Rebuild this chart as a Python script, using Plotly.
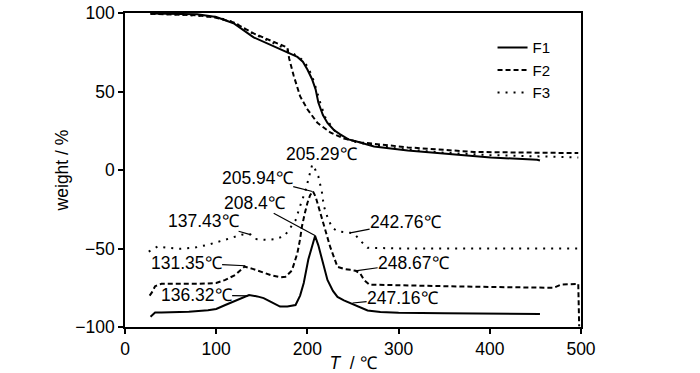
import plotly.graph_objects as go

# ---- TG curves (weight %) ----
t_f1_tg = [28, 60, 79, 100, 119, 141, 156, 174, 189, 195, 200, 205, 209, 212, 217, 222, 229, 236, 245, 255, 273, 310, 357, 401, 452, 455]
w_f1_tg = [99.7, 99.3, 99.2, 97.4, 93.5, 84.5, 80.5, 76, 72, 69, 64, 58, 51.4, 43, 35, 30, 25.5, 22.7, 19.5, 18, 15, 12.5, 10, 8, 6.5, 6]

t_f2_tg = [28, 60, 80, 100, 119, 141, 163, 178, 180, 185, 192, 200, 211, 225, 240, 258, 310, 383, 456, 497]
w_f2_tg = [99.5, 99, 98.5, 97, 94, 87, 81.5, 78, 71, 60, 47, 38.7, 30, 24, 20, 17.6, 14.4, 11.5, 11, 10.8]

t_f3_tg = [28, 60, 100, 120, 140, 160, 175, 185, 195, 200, 205, 210, 215, 220, 230, 240, 255, 300, 350, 400, 450, 497]
w_f3_tg = [99.5, 99, 97.5, 94, 87, 81.5, 77.5, 74, 70, 66, 60, 51, 41, 33, 25, 20.5, 17.5, 13.5, 11, 9.5, 8.5, 8]

# ---- DTG curves (offset, drawn on same axis) ----
t_f1_dtg = [28, 30, 33, 40, 55, 70, 91, 100, 110, 120, 128, 136, 145, 152, 160, 170, 178, 183, 187, 192, 196, 201, 205, 208.4,
            212, 216, 222, 228, 233, 240, 247, 255, 266, 280, 300, 350, 400, 455]
v_f1_dtg = [-93.5, -92.3, -90.8, -90.8, -90.5, -90.3, -89.3, -88.5, -86, -83.5, -81.5, -79.6, -80.5, -81.6, -84, -87, -87, -86.5, -86,
            -80, -72, -57, -48, -42, -48, -57, -70, -77, -80.8, -83, -84.7, -87, -89.5, -90.5, -91, -91.3, -91.5, -91.7]

t_f2_dtg = [27, 29.5, 33, 40, 60, 80, 100, 110, 121, 131, 140, 150, 160, 170, 176, 183, 187, 189, 192, 194, 197, 200, 203, 206,
            209, 212, 218, 225, 233, 240, 247, 253, 258, 262, 268, 300, 350, 400, 450, 470, 478, 497, 498]
v_f2_dtg = [-80, -78, -74, -72.5, -72.5, -72.5, -72, -70, -66.8, -61.5, -63, -65, -67, -68.3, -68, -64, -57, -53, -44, -36, -28,
            -21, -16, -13.5, -17, -23, -33.5, -49, -61.7, -63, -63.6, -64.2, -66, -70, -73, -73.5, -74, -74.5, -75, -75, -73,
            -72.5, -99.5]

t_f3_dtg = [26, 36, 47, 60, 76, 91, 110, 128, 137.4, 143, 155, 165, 175, 181, 187, 192, 198, 201, 204, 205.3, 208, 212, 216,
            218, 222, 227, 233, 240, 247, 252, 258, 266, 300, 350, 400, 450, 497]
v_f3_dtg = [-52, -48.7, -49.5, -50.2, -49.5, -47.6, -44.4, -41.2, -41, -44, -44.5, -44, -42, -37, -32, -23, -13, -6, 1, 3.5, 1,
            -4, -14.4, -23, -30, -36.7, -39, -39.5, -40, -41, -45, -49.5, -50, -50, -50, -50, -50]

# ---- peak labels ----
lab_text = ["205.29℃", "205.94℃", "208.4℃", "137.43℃", "131.35℃", "136.32℃", "242.76℃", "248.67℃", "247.16℃"]
lab_pt_t = [205.3, 205.5, 208.8, 137.4, 131.9, 135.2, 247.0, 252.7, 249.5]
lab_pt_v = [3.5, -13.7, -41.9, -41.2, -61.0, -80.2, -40.0, -64.2, -84.7]
lab_tx_t = [215.0, 145.0, 141.8, 85.7, 67.0, 78.0, 307.7, 316.5, 304.4]
lab_tx_v = [10.0, -4.8, -20.8, -32.3, -59.1, -79.6, -33.2, -59.1, -81.5]
lab_arrow = [False, True, True, True, True, True, True, True, True]

x_ticks = [0, 100, 200, 300, 400, 500]
y_ticks = [-100, -50, 0, 50, 100]

FONT = "Liberation Sans, Arial"
FS = 17.5

fig = go.Figure()
line_f1 = dict(color="black", width=2)
line_f2 = dict(color="black", width=2, dash="5px,3px")
line_f3 = dict(color="black", width=2, dash="2px,6px")

fig.add_trace(go.Scatter(x=t_f1_tg, y=w_f1_tg, mode="lines", line=line_f1, name="F1", legendgroup="F1"))
fig.add_trace(go.Scatter(x=t_f2_tg, y=w_f2_tg, mode="lines", line=line_f2, name="F2", legendgroup="F2"))
fig.add_trace(go.Scatter(x=t_f3_tg, y=w_f3_tg, mode="lines", line=line_f3, name="F3", legendgroup="F3"))
fig.add_trace(go.Scatter(x=t_f1_dtg, y=v_f1_dtg, mode="lines", line=line_f1, name="F1", legendgroup="F1", showlegend=False))
fig.add_trace(go.Scatter(x=t_f2_dtg, y=v_f2_dtg, mode="lines", line=line_f2, name="F2", legendgroup="F2", showlegend=False))
fig.add_trace(go.Scatter(x=t_f3_dtg, y=v_f3_dtg, mode="lines", line=line_f3, name="F3", legendgroup="F3", showlegend=False))

for txt, pt, pv, tt, tv, arr in zip(lab_text, lab_pt_t, lab_pt_v, lab_tx_t, lab_tx_v, lab_arrow):
    if arr:
        fig.add_annotation(x=pt, y=pv, ax=tt, ay=tv, axref="x", ayref="y", text=txt, showarrow=True,
                           arrowhead=0, arrowwidth=1.2, arrowcolor="black", standoff=0, startstandoff=0,
                           borderpad=0, font=dict(family=FONT, size=FS, color="black"))
    else:
        fig.add_annotation(x=tt, y=tv, text=txt, showarrow=False, borderpad=0,
                           font=dict(family=FONT, size=FS, color="black"))

axis_common = dict(showline=True, linecolor="black", linewidth=1.5, mirror=True, ticks="outside",
                   ticklen=5, tickwidth=1.5, tickcolor="black", showgrid=False, zeroline=False,
                   automargin=False, ticklabeloverflow="allow",
                   tickfont=dict(family=FONT, size=FS, color="black"))

fig.update_layout(
    width=700, height=373,
    margin=dict(l=125, r=119, t=13, b=46),
    plot_bgcolor="white", paper_bgcolor="white",
    font=dict(family=FONT, size=FS, color="black"),
    xaxis=dict(range=[0, 500], tickvals=x_ticks, title=dict(text="<i>T</i>  / ℃", standoff=2,
               font=dict(family=FONT, size=FS)), **axis_common),
    yaxis=dict(range=[-100, 100], tickvals=y_ticks, title=dict(text="weight / %", standoff=2,
               font=dict(family=FONT, size=FS)), **axis_common),
    legend=dict(x=0.806, y=0.942, xanchor="left", yanchor="top", bgcolor="rgba(0,0,0,0)",
                font=dict(family=FONT, size=15), tracegroupgap=0, itemwidth=30),
    showlegend=True,
)

# remove the browser's default 8px body margin so the figure sits at the window's top-left corner
fig.write_html("out.html", config={"displayModeBar": False},
               post_script="document.body.style.margin='0';")
